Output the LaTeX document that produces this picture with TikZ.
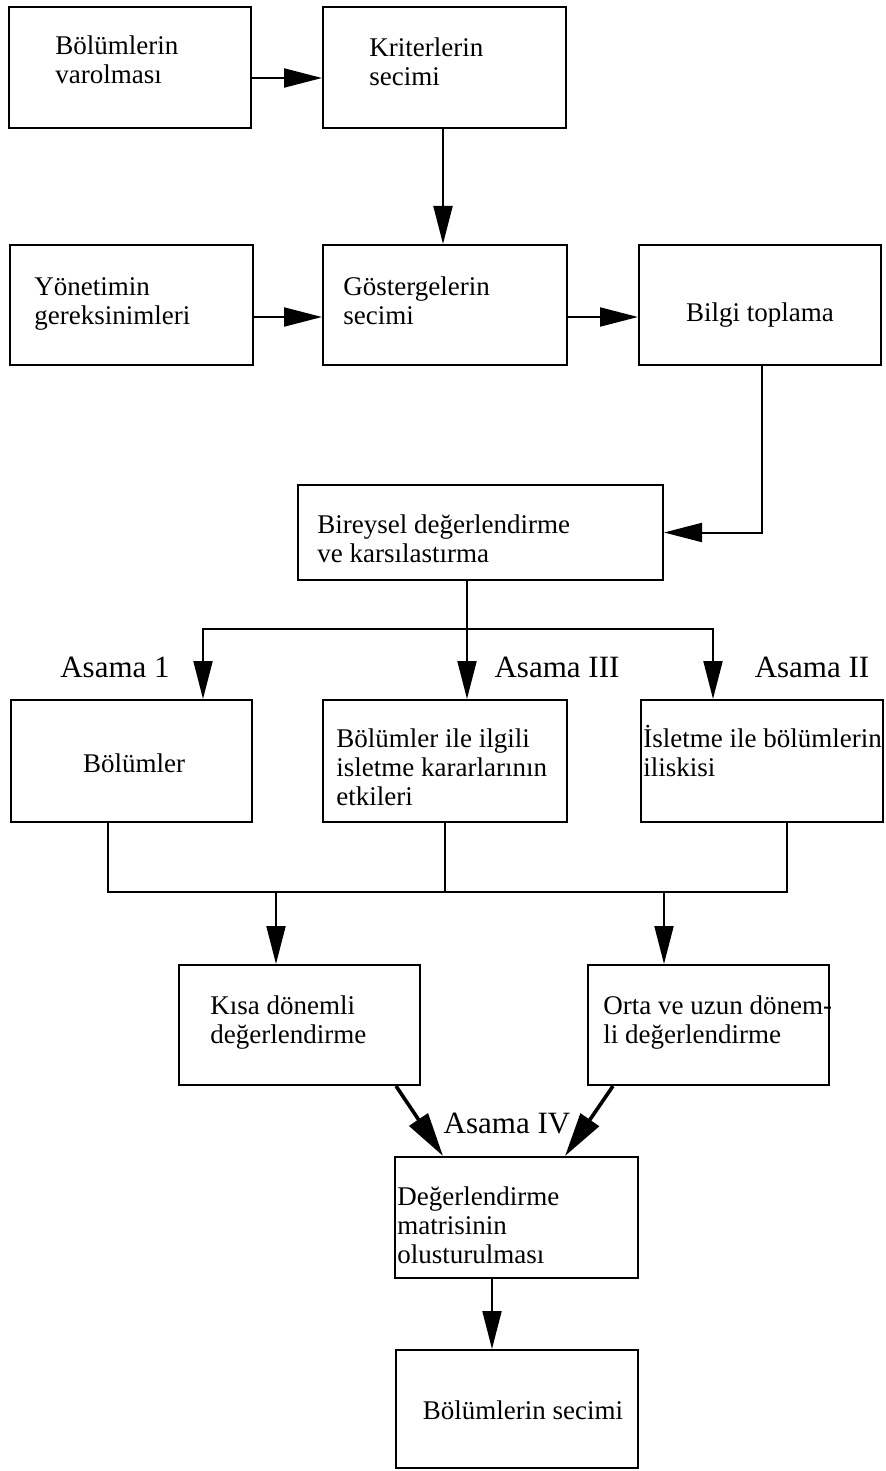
\documentclass[tikz,border=0pt]{standalone}
\usepackage{fontspec}
\setmainfont{Liberation Serif}
\usetikzlibrary{arrows.meta}
% left-aligned block of lines whose baseline is the first line
\newcommand\linesblock[1]{\vtop{\baselineskip=14.5pt\lineskiplimit=-20pt\halign{##\hfil\cr#1\crcr}}}
\begin{document}
\begin{tikzpicture}[x=0.5pt,y=-0.5pt,
  box/.style={draw, line width=1pt, rectangle, inner sep=0pt},
  size/.style 2 args={minimum width=#1*0.5pt, minimum height=#2*0.5pt},
  txt/.style={inner sep=0pt, anchor=base west, font=\fontsize{13.5pt}{14.5pt}\selectfont},
  ctxt/.style={inner sep=0pt, anchor=base, font=\fontsize{13.5pt}{14.5pt}\selectfont},
  stage/.style={inner sep=0pt, anchor=base, font=\fontsize{15.5pt}{17pt}\selectfont},
  link/.style={line width=1pt},
  arr/.style={line width=1pt, -{Triangle[length=19pt,width=9.5pt]}},
  heavyarr/.style={line width=1.8pt, -{Triangle[length=22pt,width=11pt]}}]
\useasboundingbox (0,0) rectangle (886,1471);

% boxes
\node[box, size={242}{121}] (b1) at (130,67.5) {};
\node[box, size={243}{121}] (b2) at (444.5,67.5) {};
\node[box, size={243}{120}] (b3) at (131.5,305) {};
\node[box, size={244}{120}] (b4) at (445,305) {};
\node[box, size={242}{120}] (b5) at (760,305) {};
\node[box, size={365}{95}]  (b6) at (480.5,532.5) {};
\node[box, size={241}{122}] (b7) at (131.5,761) {};
\node[box, size={244}{122}] (b8) at (445,761) {};
\node[box, size={242}{122}] (b9) at (762,761) {};
\node[box, size={241}{120}] (b10) at (299.5,1025) {};
\node[box, size={241}{120}] (b11) at (708.5,1025) {};
\node[box, size={243}{121}] (b12) at (516.5,1217.5) {};
\node[box, size={242}{118}] (b13) at (517,1409) {};

% box texts
\node[txt] (t1) at (55,55) {\linesblock{Bölümlerin\cr varolması}};
\node[txt] (t2) at (369,57) {\linesblock{Kriterlerin\cr secimi}};
\node[txt] (t3) at (34,295) {\linesblock{Yönetimin\cr gereksinimleri}};
\node[txt] (t4) at (343,295) {\linesblock{Göstergelerin\cr secimi}};
\node[ctxt] (t5) at (760,321) {Bilgi toplama};
\node[txt] (t6) at (317,533) {\linesblock{Bireysel değerlendirme\cr ve karsılastırma}};
\node[ctxt] (t7) at (134,772) {Bölümler};
\node[txt] (t8) at (336,747) {\linesblock{Bölümler ile ilgili\cr isletme kararlarının\cr etkileri}};
\node[txt] (t9) at (643,747) {\linesblock{İsletme ile bölümlerin\cr iliskisi}};
\node[txt] (t10) at (210,1014) {\linesblock{Kısa dönemli\cr değerlendirme}};
\node[txt] (t11) at (603,1014) {\linesblock{Orta ve uzun dönem-\cr li değerlendirme}};
\node[txt] (t12) at (397,1205) {\linesblock{Değerlendirme\cr matrisinin\cr olusturulması}};
\node[ctxt] (t13) at (523,1419) {Bölümlerin secimi};

% stage labels
\node[stage] (s1) at (115,677) {Asama 1};
\node[stage] (s3) at (557,677) {Asama III};
\node[stage] (s2) at (812,677) {Asama II};
\node[stage] (s4) at (507,1133) {Asama IV};

% junction points
\coordinate (split) at (467,629);
\coordinate (mL) at (108,892);
\coordinate (mC) at (445,892);
\coordinate (mR) at (787,892);
\coordinate (fL) at (276,892);
\coordinate (fR) at (664,892);

% connectors
\draw[arr] (b1.east |- 0,78) -- (b2.west |- 0,78);
\draw[arr] (b2.south -| 443,0) -- (b4.north -| 443,0);
\draw[arr] (b3.east |- 0,317) -- (b4.west |- 0,317);
\draw[arr] (b4.east |- 0,317) -- (b5.west |- 0,317);
\draw[arr] (b5.south -| 762,0) |- (b6.east);
\draw[arr] (b6.south -| 467,0) -- (b8.north -| 467,0);
\draw[arr] (split) -| (b7.north -| 203,0);
\draw[arr] (split) -| (b9.north -| 713,0);
\draw[link] (b7.south -| 108,0) -- (mL) -- (mR) -- (b9.south -| 787,0);
\draw[link] (b8.south -| 445,0) -- (mC);
\draw[arr] (fL) -- (b10.north -| 276,0);
\draw[arr] (fR) -- (b11.north -| 664,0);
\draw[heavyarr] (b10.south -| 396,0) -- (b12.north -| 443,0);
\draw[heavyarr] (b11.south -| 613,0) -- (b12.north -| 565,0);
\draw[arr] (b12.south -| 492,0) -- (b13.north -| 492,0);
\end{tikzpicture}
\end{document}
